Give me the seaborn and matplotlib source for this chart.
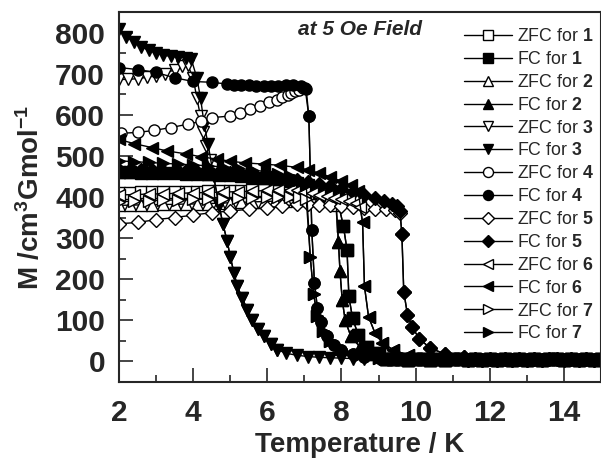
import matplotlib
matplotlib.use("Agg")
import matplotlib.pyplot as plt
import pandas as pd
import seaborn as sns
from matplotlib.ticker import MultipleLocator

# ZFC / FC magnetisation curves at 5 Oe (T in K, M in cm3 G mol-1)
T1_ZFC = [2.0, 2.3, 2.6, 2.9, 3.2, 3.5, 3.8, 4.1, 4.4, 4.7, 5.0, 5.3, 5.6, 5.9, 6.2, 6.5, 6.8, 7.1, 7.4, 7.7, 7.9, 8.05, 8.15, 8.2, 8.3, 8.45, 8.7, 9.0]
M1_ZFC = [410, 410, 411, 411, 412, 412, 413, 413, 414, 414, 415, 415, 416, 416, 417, 417, 418, 416, 412, 400, 390, 330, 272, 158, 105, 65, 35, 20]
T1_FC = [2.0, 2.3, 2.6, 2.9, 3.2, 3.5, 3.8, 4.1, 4.4, 4.7, 5.0, 5.3, 5.6, 5.9, 6.2, 6.5, 6.8, 7.1, 7.4, 7.7, 7.9, 8.05, 8.15, 8.2, 8.3, 8.45, 8.7, 9.0]
M1_FC = [460, 460, 459, 459, 458, 458, 457, 456, 455, 454, 453, 451, 449, 447, 444, 440, 435, 428, 418, 405, 392, 330, 272, 158, 105, 65, 35, 20]

T2_ZFC = [2.0, 2.3, 2.6, 2.9, 3.2, 3.5, 3.8, 4.1, 4.4, 4.7, 5.0, 5.3, 5.6, 5.9, 6.2, 6.5, 6.8, 7.1, 7.4, 7.65, 7.85, 7.92, 7.96, 8.02, 8.1, 8.25, 8.5, 8.8]
M2_ZFC = [380, 380, 381, 381, 382, 382, 383, 383, 384, 385, 386, 387, 388, 389, 390, 391, 392, 393, 394, 392, 380, 290, 219, 150, 100, 62, 35, 18]
T2_FC = [2.0, 2.3, 2.6, 2.9, 3.2, 3.5, 3.8, 4.1, 4.4, 4.7, 5.0, 5.3, 5.6, 5.9, 6.2, 6.5, 6.8, 7.1, 7.4, 7.65, 7.85, 7.92, 7.96, 8.02, 8.1, 8.25, 8.5, 8.8]
M2_FC = [462, 462, 461, 461, 460, 460, 459, 458, 457, 456, 455, 453, 451, 448, 445, 441, 436, 430, 422, 410, 395, 290, 219, 150, 100, 62, 35, 18]

T3_ZFC = [2.0, 2.25, 2.5, 2.75, 3.0, 3.25, 3.5, 3.7, 3.85, 4.0, 4.1, 4.2, 4.27, 4.35, 4.45, 4.55, 4.7, 4.8, 4.92, 5.0, 5.1, 5.19, 5.32, 5.46, 5.6, 5.75, 5.9, 6.1, 6.27]
M3_ZFC = [686, 686, 688, 691, 695, 700, 710, 718, 722, 690, 640, 596, 557, 523, 490, 450, 380, 335, 292, 255, 216, 183, 155, 126, 100, 78, 61, 42, 29]
T3_FC = [2.0, 2.2, 2.4, 2.6, 2.8, 3.0, 3.2, 3.4, 3.6, 3.8, 3.95, 4.1, 4.2, 4.3, 4.4, 4.55, 4.7, 4.8, 4.92, 5.0, 5.1, 5.19, 5.32, 5.46, 5.6, 5.75, 5.9, 6.1, 6.27, 6.5, 6.8, 7.1, 7.4, 7.7, 8.0, 8.3, 8.6, 9.0]
M3_FC = [808, 790, 776, 765, 757, 750, 745, 742, 740, 738, 735, 690, 640, 575, 530, 450, 380, 335, 292, 255, 216, 183, 155, 126, 100, 78, 61, 42, 29, 20, 15, 12, 10, 9, 8, 7, 6, 5]

T4_ZFC = [2.05, 2.5, 2.95, 3.4, 3.85, 4.2, 4.5, 5.0, 5.27, 5.54, 5.8, 6.05, 6.25, 6.4, 6.55, 6.65, 6.75, 6.85, 6.95, 7.02, 7.12, 7.2, 7.27, 7.35, 7.45, 7.6, 7.8, 8.0, 8.3, 8.6, 9.0]
M4_ZFC = [555, 557, 562, 569, 577, 584, 593, 597, 605, 613, 621, 630, 637, 643, 649, 653, 657, 661, 664, 665, 596, 320, 192, 131, 95, 62, 40, 28, 18, 12, 8]
T4_FC = [2.0, 2.5, 3.0, 3.5, 4.0, 4.5, 4.9, 5.1, 5.3, 5.5, 5.7, 5.9, 6.1, 6.3, 6.5, 6.7, 6.9, 7.05, 7.12, 7.2, 7.27, 7.35, 7.45, 7.6, 7.8, 8.0, 8.3, 8.6, 9.0]
M4_FC = [715, 710, 703, 690, 681, 679, 675, 673, 672, 672, 671, 671, 671, 671, 672, 673, 670, 662, 596, 320, 192, 131, 95, 62, 40, 28, 18, 12, 8]

T5_ZFC = [2.0, 2.5, 3.0, 3.5, 4.0, 4.5, 5.0, 5.5, 6.0, 6.4, 6.8, 7.1, 7.4, 7.7, 8.0, 8.3, 8.6, 8.9, 9.2, 9.45, 9.58, 9.63, 9.68, 9.78, 9.9, 10.1, 10.4, 10.8, 11.3]
M5_ZFC = [335, 338, 345, 350, 356, 362, 366, 370, 374, 378, 382, 382, 381, 380, 378, 376, 374, 372, 370, 368, 362, 309, 170, 114, 85, 55, 32, 18, 10]
T5_FC = [2.0, 2.3, 2.6, 2.9, 3.2, 3.5, 3.8, 4.1, 4.4, 4.7, 5.0, 5.3, 5.6, 5.9, 6.2, 6.5, 6.8, 7.1, 7.4, 7.7, 8.0, 8.3, 8.6, 8.9, 9.15, 9.35, 9.5, 9.58, 9.63, 9.68, 9.78, 9.9, 10.1, 10.4, 10.8, 11.3]
M5_FC = [466, 466, 465, 465, 464, 464, 463, 462, 461, 460, 459, 457, 455, 452, 449, 445, 441, 437, 432, 426, 420, 413, 405, 397, 390, 383, 377, 365, 309, 170, 114, 85, 55, 32, 18, 10]

T6_ZFC = [2.0, 2.4, 2.8, 3.2, 3.6, 4.0, 4.4, 4.8, 5.2, 5.6, 6.0, 6.3, 6.6, 6.8, 7.0, 7.2, 7.4, 7.6, 7.8, 8.0, 8.2, 8.4, 8.5, 8.57, 8.62, 8.73, 8.9, 9.1, 9.4, 9.8, 10.3]
M6_ZFC = [405, 406, 407, 408, 409, 410, 411, 412, 413, 414, 416, 417, 418, 416, 413, 410, 406, 402, 398, 394, 390, 385, 375, 338, 183, 109, 70, 45, 28, 15, 8]
T6_FC = [2.0, 2.4, 2.9, 3.3, 3.8, 4.2, 4.65, 5.0, 5.4, 5.9, 6.35, 6.8, 7.1, 7.4, 7.7, 8.0, 8.25, 8.45, 8.57, 8.62, 8.73, 8.9, 9.1, 9.4, 9.8, 10.3]
M6_FC = [540, 530, 520, 512, 505, 498, 492, 487, 483, 480, 477, 472, 466, 458, 449, 438, 428, 415, 338, 183, 109, 70, 45, 28, 15, 8]

T7_ZFC = [2.0, 2.4, 2.8, 3.2, 3.6, 4.0, 4.4, 4.8, 5.2, 5.6, 6.0, 6.3, 6.6, 6.85, 7.05, 7.16, 7.25, 7.35, 7.5, 7.7, 8.0, 8.5, 9.0]
M7_ZFC = [388, 390, 391, 392, 393, 394, 395, 396, 397, 398, 399, 400, 401, 400, 395, 253, 163, 110, 75, 50, 30, 15, 8]
T7_FC = [2.0, 2.4, 2.8, 3.2, 3.6, 4.0, 4.4, 4.8, 5.2, 5.6, 6.0, 6.3, 6.6, 6.85, 7.05, 7.16, 7.25, 7.35, 7.5, 7.7, 8.0, 8.5, 9.0]
M7_FC = [488, 486, 484, 482, 480, 478, 476, 473, 470, 466, 461, 456, 450, 442, 430, 253, 163, 110, 75, 50, 30, 15, 8]

# paramagnetic tail shared by all curves above Tc
TAIL_T = [9.2, 9.4, 9.6, 9.8, 10.0, 10.2, 10.4, 10.6, 10.8, 11.0, 11.2, 11.4, 11.6, 11.8, 12.0,
          12.2, 12.4, 12.6, 12.8, 13.0, 13.2, 13.4, 13.6, 13.8, 14.0, 14.2, 14.4, 14.6, 14.8, 15.0]
TAIL_M = [6, 5, 6, 4, 5, 6, 4, 5, 3, 5, 6, 4, 5, 3, 5, 4, 6, 4, 5, 3, 5, 4, 6, 5, 3, 5, 4, 6, 4, 5]

series = [
    ("ZFC", 1, "s", T1_ZFC, M1_ZFC), ("FC", 1, "s", T1_FC, M1_FC),
    ("ZFC", 2, "^", T2_ZFC, M2_ZFC), ("FC", 2, "^", T2_FC, M2_FC),
    ("ZFC", 3, "v", T3_ZFC, M3_ZFC), ("FC", 3, "v", T3_FC, M3_FC),
    ("ZFC", 4, "o", T4_ZFC, M4_ZFC), ("FC", 4, "o", T4_FC, M4_FC),
    ("ZFC", 5, "D", T5_ZFC, M5_ZFC), ("FC", 5, "D", T5_FC, M5_FC),
    ("ZFC", 6, "<", T6_ZFC, M6_ZFC), ("FC", 6, "<", T6_FC, M6_FC),
    ("ZFC", 7, ">", T7_ZFC, M7_ZFC), ("FC", 7, ">", T7_FC, M7_FC),
]

sns.set_style("ticks")
plt.rcParams["font.family"] = ["Liberation Sans", "DejaVu Sans"]
plt.rcParams["mathtext.fontset"] = "custom"
plt.rcParams["mathtext.rm"] = "Liberation Sans:bold"
plt.rcParams["mathtext.bf"] = "Liberation Sans:bold"
plt.rcParams["mathtext.it"] = "Liberation Sans:bold:italic"

fig = plt.figure(figsize=(6.01, 4.63), dpi=100)
ax = fig.add_axes([119 / 601, 81 / 463, 482 / 601, 370 / 463])

for kind, n, mk, t, m in series:
    tt = list(t) + [x for x in TAIL_T if x > t[-1]]
    mm = list(m) + [y for x, y in zip(TAIL_T, TAIL_M) if x > t[-1]]
    df = pd.DataFrame({"T": tt, "M": mm})
    ms = 7 if mk == "D" else 8
    sns.lineplot(data=df, x="T", y="M", ax=ax, estimator=None, sort=False,
                 color="black", lw=1, marker=mk, ms=ms,
                 mfc="white" if kind == "ZFC" else "black", mec="black", mew=1,
                 label=f"{kind} for $\\mathbf{{{n}}}$")

ax.set_xlim(2, 15)
ax.set_ylim(-50, 850)
ax.xaxis.set_major_locator(MultipleLocator(2))
ax.xaxis.set_minor_locator(MultipleLocator(1))
ax.yaxis.set_major_locator(MultipleLocator(100))
ax.yaxis.set_minor_locator(MultipleLocator(50))
ax.tick_params(which="major", direction="in", length=10, width=1.2, labelsize=21.5)
ax.tick_params(which="minor", direction="in", length=5, width=1.2)
ax.tick_params(axis="x", pad=12)
ax.tick_params(axis="y", pad=10)
for lab in ax.get_xticklabels() + ax.get_yticklabels():
    lab.set_fontweight("bold")
for sp in ax.spines.values():
    sp.set_linewidth(1.5)

ax.set_xlabel("Temperature / K", fontsize=20, fontweight="bold", labelpad=4)
ax.set_ylabel("M /cm$^{3}$Gmol$^{-1}$", fontsize=20, fontweight="bold", labelpad=7)

ax.text(6.84, 808, "at 5 Oe Field", fontsize=15, fontweight="bold", style="italic", va="center")

ax.legend(loc="upper right", bbox_to_anchor=(1.01, 0.99), frameon=False,
          prop={"size": 12.8, "weight": "normal"},
          handlelength=2.7, handletextpad=0.25, labelspacing=0.33, borderpad=0.2,
          markerscale=0.9)

fig.savefig("out.png", dpi=100)
